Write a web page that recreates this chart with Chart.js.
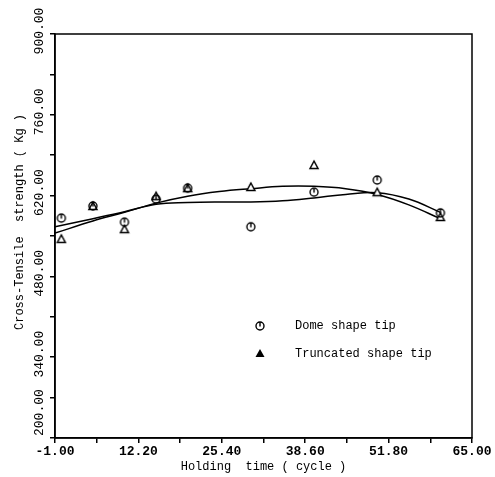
<!DOCTYPE html>
<html>
<head>
<meta charset="utf-8">
<script src="https://cdn.jsdelivr.net/npm/chart.js@4"></script>
<style>
    body { margin: 0; background: #ffffff; }
    canvas { display: block; }
</style>
</head>
<body>
<canvas id="strengthChart" width="495" height="477"></canvas>
<script>

// DATA

const holdTimes = [0, 5, 10, 15, 20, 30, 40, 50, 60];
const domeStrength = [581, 602, 574, 614, 633, 566, 626, 647, 590];
const truncStrength = [545, 602, 562, 619, 633, 635, 673, 626, 583];

const fitTimes = [-1, 5, 10, 15, 20, 25, 30, 35, 40, 45, 50, 55, 60];
const domeFit = [566, 580, 592, 605, 608, 609, 609, 611, 616, 622, 625, 614, 591];
const truncFit = [555, 576, 591, 607, 619, 627, 632, 636, 636, 632, 622, 604, 580];

const xTicks = [-1, 5.6, 12.2, 18.8, 25.4, 32, 38.6, 45.2, 51.8, 58.4, 65];
const yTicks = [200, 270, 340, 410, 480, 550, 620, 690, 760, 830, 900];

const seriesNames = ['Dome shape tip', 'Truncated shape tip'];

const FONT = "'Liberation Mono', 'DejaVu Sans Mono', monospace";


// MARKERS

function domeMarker() {
    const c = document.createElement('canvas');
    c.width = 12;
    c.height = 12;
    const g = c.getContext('2d');
    g.strokeStyle = '#000';
    g.lineWidth = 1.4;
    g.beginPath();
    g.arc(6, 6, 4, 0, Math.PI * 2);
    g.stroke();
    g.beginPath();
    g.moveTo(6, 2);
    g.lineTo(6, 6.5);
    g.stroke();
    return c;
}

function triMarker() {
    const c = document.createElement('canvas');
    c.width = 12;
    c.height = 12;
    const g = c.getContext('2d');
    g.strokeStyle = '#000';
    g.fillStyle = '#fff';
    g.lineWidth = 1.5;
    g.beginPath();
    g.moveTo(6, 2);
    g.lineTo(10, 9.5);
    g.lineTo(2, 9.5);
    g.closePath();
    g.fill();
    g.stroke();
    return c;
}

function triFilled() {
    const c = document.createElement('canvas');
    c.width = 12;
    c.height = 12;
    const g = c.getContext('2d');
    g.fillStyle = '#000';
    g.beginPath();
    g.moveTo(6, 2);
    g.lineTo(10.5, 10);
    g.lineTo(1.5, 10);
    g.closePath();
    g.fill();
    return c;
}

const domeImg = domeMarker();
const triImg = triMarker();
const triLegendImg = triFilled();

function toPoints(xs, ys) {
    return xs.map((x, i) => ({ x: x, y: ys[i] }));
}


// EXTRA DRAWING (frame, rotated y labels, y title, legend)

const extras = {
    id: 'extras',
    afterDraw(chart) {
        const ctx = chart.ctx;
        const a = chart.chartArea;
        const y = chart.scales.y;

        ctx.save();
        ctx.strokeStyle = '#000';
        ctx.lineWidth = 1.5;
        ctx.strokeRect(a.left, a.top, a.right - a.left, a.bottom - a.top);

        ctx.fillStyle = '#000';
        ctx.font = '13px ' + FONT;
        ctx.textBaseline = 'middle';
        yTicks.forEach((v, i) => {
            if (i % 2 !== 0) return;
            ctx.save();
            if (i === 0) {
                // lowest label sits above the x axis labels
                ctx.translate(40, y.getPixelForValue(v) - 2);
                ctx.rotate(-Math.PI / 2);
                ctx.textAlign = 'left';
            } else {
                ctx.translate(40, y.getPixelForValue(v) - 3);
                ctx.rotate(-Math.PI / 2);
                ctx.textAlign = 'center';
            }
            ctx.fillText(v.toFixed(2), 0, 0);
            ctx.restore();
        });

        ctx.save();
        ctx.font = '12px ' + FONT;
        ctx.textAlign = 'center';
        ctx.translate(20, 222);
        ctx.rotate(-Math.PI / 2);
        ctx.fillText('Cross-Tensile  strength ( Kg )', 0, 0);
        ctx.restore();

        ctx.font = '12px ' + FONT;
        ctx.textAlign = 'left';
        ctx.drawImage(domeImg, 254, 320);
        ctx.fillText(seriesNames[0], 295, 326);
        ctx.drawImage(triLegendImg, 254, 347);
        ctx.fillText(seriesNames[1], 295, 354);
        ctx.restore();
    }
};


// CHART

const ctx = document.getElementById('strengthChart');

new Chart(ctx, {

    type: 'scatter',

    data: {
        datasets: [
            {
                label: seriesNames[0],
                data: toPoints(holdTimes, domeStrength),
                pointStyle: domeImg,
                pointRadius: 5
            },
            {
                label: seriesNames[1],
                data: toPoints(holdTimes, truncStrength),
                pointStyle: triImg,
                pointRadius: 5
            },
            {
                label: 'dome fit',
                data: toPoints(fitTimes, domeFit),
                showLine: true,
                borderColor: '#000',
                borderWidth: 1.5,
                pointRadius: 0,
                tension: 0.4
            },
            {
                label: 'truncated fit',
                data: toPoints(fitTimes, truncFit),
                showLine: true,
                borderColor: '#000',
                borderWidth: 1.5,
                pointRadius: 0,
                tension: 0.4
            }
        ]
    },

    options: {

        responsive: false,
        animation: false,

        layout: {
            padding: { top: 34, right: 23, left: 0, bottom: 0 }
        },

        plugins: {
            legend: { display: false },
            tooltip: { enabled: false }
        },

        scales: {

            x: {
                type: 'linear',
                min: -1,
                max: 65,
                afterBuildTicks: (scale) => {
                    scale.ticks = xTicks.map(v => ({ value: v }));
                },
                afterFit: (scale) => {
                    scale.height = 39;
                },
                grid: {
                    drawOnChartArea: false,
                    color: '#000',
                    lineWidth: 1.5,
                    tickLength: 5
                },
                border: { color: '#000', width: 1.5 },
                ticks: {
                    autoSkip: false,
                    maxRotation: 0,
                    padding: 1,
                    color: '#000',
                    font: { family: FONT, size: 13, weight: 'bold' },
                    callback: (value, index) =>
                        index % 2 === 0 ? Number(value).toFixed(2) : ''
                },
                title: {
                    display: true,
                    text: 'Holding  time ( cycle )',
                    color: '#000',
                    font: { family: FONT, size: 12 },
                    padding: { top: 0, bottom: 3 }
                }
            },

            y: {
                type: 'linear',
                min: 200,
                max: 900,
                afterBuildTicks: (scale) => {
                    scale.ticks = yTicks.map(v => ({ value: v }));
                },
                afterFit: (scale) => {
                    scale.width = 55;
                },
                grid: {
                    drawOnChartArea: false,
                    color: '#000',
                    lineWidth: 1.5,
                    tickLength: 5
                },
                border: { color: '#000', width: 1.5 },
                ticks: { display: false },
                title: { display: false }
            }

        }

    },

    plugins: [extras]

});

</script>
</body>
</html>
